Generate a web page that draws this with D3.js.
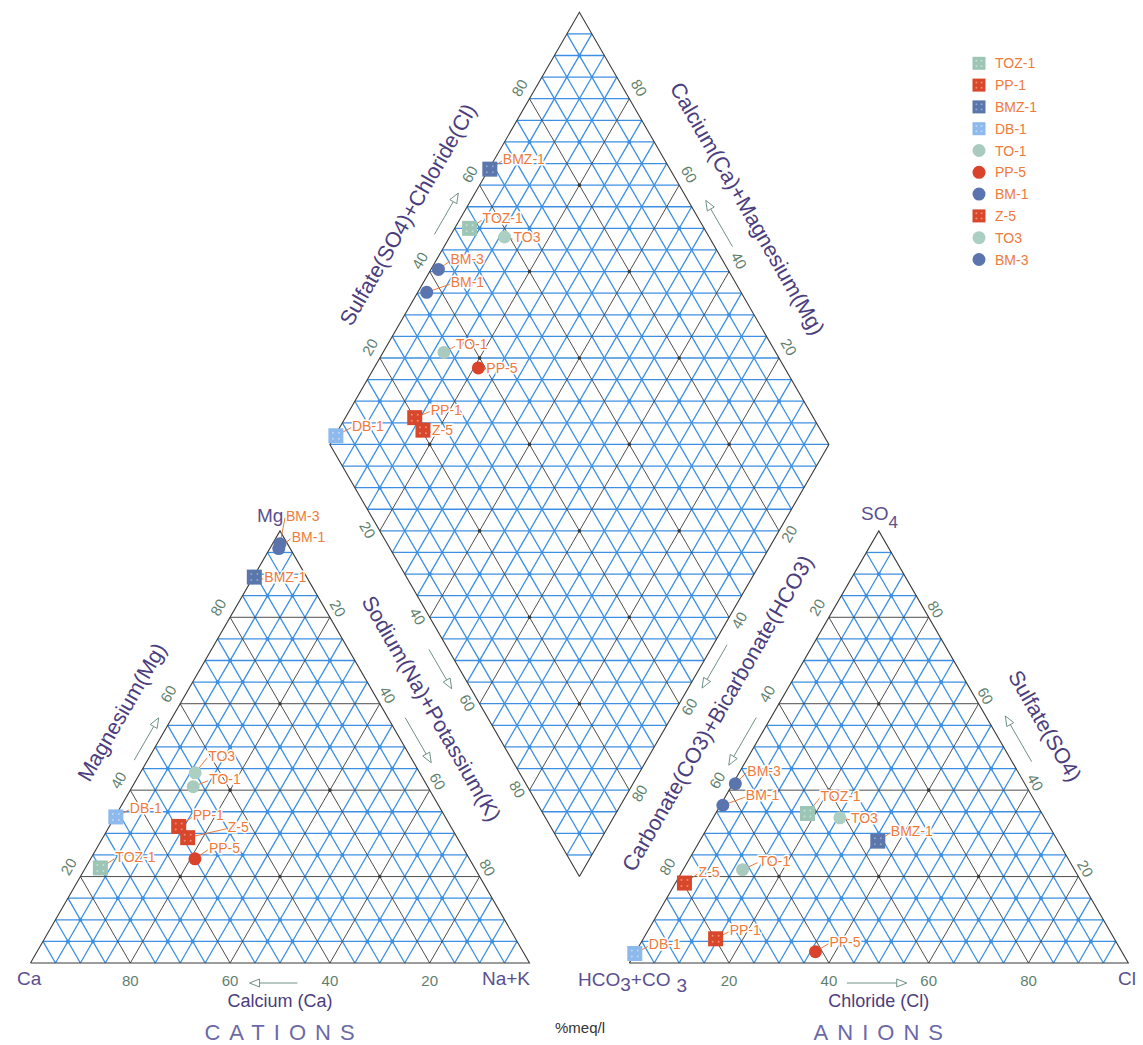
<!DOCTYPE html>
<html>
<head>
<meta charset="utf-8">
<script src="https://cdn.jsdelivr.net/npm/d3@7"></script>
<style>
  body { margin: 0; background: #fff; }
  svg { display: block; font-family: "Liberation Sans", Arial, sans-serif; }
</style>
</head>
<body>
<svg id="chart" width="1143" height="1045"></svg>
<script>
//======= data (%meq/l) =======//
const samples = ['TOZ-1', 'PP-1', 'BMZ-1', 'DB-1', 'TO-1', 'PP-5', 'BM-1', 'Z-5', 'TO3', 'BM-3'];
// cations
const caPct  = [75, 54.5, 10.5, 66, 47, 55, 2.3, 54, 45, 1.5];
const mgPct  = [22, 31.6, 89.3, 33.8, 40.8, 24.1, 95.9, 29, 44, 97];
const naKPct = [3, 13.9, 0.2, 0.2, 12.2, 20.9, 1.8, 17, 11, 1.5];
// anions
const hco3Pct = [47, 79.9, 36.1, 97.8, 66.5, 61.4, 63, 79.7, 41, 58];
const so4Pct  = [34.6, 5.6, 28.2, 2.2, 21.6, 2.6, 36.5, 18.5, 33.6, 41.5];
const clPct   = [18.4, 14.5, 35.7, 0, 11.9, 36, 0.5, 1.8, 25.4, 0.5];

const ticks = [20, 40, 60, 80];

//======= styles =======//
const markerStyle = {
  'TOZ-1': { shape: 'square', fill: '#9dc5b5', dot: '#c6ded4' },
  'PP-1':  { shape: 'square', fill: '#d8472c', dot: '#f08d6d' },
  'BMZ-1': { shape: 'square', fill: '#5a76aa', dot: '#90a6cd' },
  'DB-1':  { shape: 'square', fill: '#8db9ec', dot: '#c0d8f5' },
  'TO-1':  { shape: 'circle', fill: '#a9cbbf' },
  'PP-5':  { shape: 'circle', fill: '#d9432b' },
  'BM-1':  { shape: 'circle', fill: '#5a74b0' },
  'Z-5':   { shape: 'square', fill: '#d8472c', dot: '#f08d6d' },
  'TO3':   { shape: 'circle', fill: '#abd0c3' },
  'BM-3':  { shape: 'circle', fill: '#5a74ae' }
};

// label offsets (px) from marker, per panel
const labelOffset = {
  left: {
    'TOZ-1': [15, -11], 'PP-1': [14, -11], 'BMZ-1': [10, 0], 'DB-1': [14, -9], 'TO-1': [16, -8],
    'PP-5': [14, -11], 'BM-1': [13, -12], 'Z-5': [40, -11], 'TO3': [13, -17], 'BM-3': [6, -28]
  },
  right: {
    'TOZ-1': [13, -17], 'PP-1': [14, -9], 'BMZ-1': [13, -10], 'DB-1': [14, -9], 'TO-1': [16, -9],
    'PP-5': [14, -10], 'BM-1': [23, -10], 'Z-5': [14, -11], 'TO3': [11, 0], 'BM-3': [12, -13]
  },
  diamond: {
    'TOZ-1': [13, -10], 'PP-1': [16, -8], 'BMZ-1': [13, -10], 'DB-1': [16, -10], 'TO-1': [12, -8],
    'PP-5': [8, 0], 'BM-1': [24, -10], 'Z-5': [9, 0], 'TO3': [9, 0], 'BM-3': [12, -10]
  }
};

const blue = '#3c8fe2';
const black = '#3a3a3a';
const titleColor = '#4b3d7e';
const tickColor = '#5f7f70';
const labelColor = '#ee7a3c';
const arrowColor = '#6f9282';

//======= geometry =======//
const H = Math.sqrt(3) / 2;
const side = 499;
const x = d3.scaleLinear().domain([0, 2.2]).range([30.5, 30.5 + 2.2 * side]);
const y = d3.scaleLinear().domain([0, 1]).range([963, 963 - side]);

// a = bottom-left, b = bottom-right, c = apex
const cation = (a, b, c) => [b / 100 + c / 200, c / 100 * H];       // Ca, Na+K, Mg
const anion = (a, b, c) => [1.2 + b / 100 + c / 200, c / 100 * H];  // HCO3+CO3, Cl, SO4
// u = SO4+Cl, v = Ca+Mg
const diamond = (u, v) => [1.1 + (u - v) / 200, 0.2 * H + (u + v) / 100 * H];
const px = p => [x(p[0]), y(p[1])];

const lineGen = d3.line().x(d => x(d[0])).y(d => y(d[1]));

const svg = d3.select('#chart');
const gBlue = svg.append('g');
const gBlack = svg.append('g');
const gText = svg.append('g');
const gMarks = svg.append('g');

function triangleGrid(tern) {
  const g = { blueSegs: [], blackSegs: [], blueDots: [], blackDots: [] };
  for (let k = 5; k < 100; k += 5) {
    const segs = [
      [tern(100 - k, 0, k), tern(0, 100 - k, k)],
      [tern(100 - k, k, 0), tern(0, k, 100 - k)],
      [tern(k, 100 - k, 0), tern(k, 0, 100 - k)]
    ];
    (k % 20 === 0 ? g.blackSegs : g.blueSegs).push(...segs);
  }
  for (let c = 0; c <= 100; c += 5) {
    for (let b = 0; b <= 100 - c; b += 5) {
      const a = 100 - b - c, v = [a, b, c];
      const odd = v.filter(t => t % 10 === 5).length;
      const even = v.find(t => t % 10 === 0);
      if (odd === 2 && even % 20 === 10) g.blueDots.push(tern(a, b, c));
      if (v.every(t => t > 0 && t % 20 === 0)) g.blackDots.push(tern(a, b, c));
    }
  }
  g.outline = [tern(100, 0, 0), tern(0, 100, 0), tern(0, 0, 100), tern(100, 0, 0)];
  return g;
}

function diamondGrid() {
  const g = { blueSegs: [], blackSegs: [], blueDots: [], blackDots: [] };
  for (let k = 5; k < 100; k += 5) {
    const segs = [[diamond(k, 0), diamond(k, 100)], [diamond(0, k), diamond(100, k)]];
    (k % 20 === 0 ? g.blackSegs : g.blueSegs).push(...segs);
  }
  for (let k = 5; k < 200; k += 5) {
    if (k <= 100) g.blueSegs.push([diamond(0, k), diamond(k, 0)]);
    else g.blueSegs.push([diamond(k - 100, 100), diamond(100, k - 100)]);
  }
  for (let u = 5; u < 100; u += 5) {
    for (let v = 5; v < 100; v += 5) {
      if (u % 10 === 5 && v % 10 === 5 && (u + v) % 20 === 10) g.blueDots.push(diamond(u, v));
      if (u % 20 === 0 && v % 20 === 0) g.blackDots.push(diamond(u, v));
    }
  }
  g.outline = [diamond(0, 0), diamond(100, 0), diamond(100, 100), diamond(0, 100), diamond(0, 0)];
  return g;
}

function drawGrid(g) {
  gBlue.selectAll(null).data(g.blueSegs).enter().append('path')
    .attr('d', lineGen).attr('fill', 'none').attr('stroke', blue).attr('stroke-width', 1.3);
  gBlue.selectAll(null).data(g.blueDots).enter().append('circle')
    .attr('cx', d => x(d[0])).attr('cy', d => y(d[1])).attr('r', 2).attr('fill', blue);
  gBlack.selectAll(null).data(g.blackSegs).enter().append('path')
    .attr('d', lineGen).attr('fill', 'none').attr('stroke', black).attr('stroke-width', 0.9);
  gBlack.selectAll(null).data(g.blackDots).enter().append('circle')
    .attr('cx', d => x(d[0])).attr('cy', d => y(d[1])).attr('r', 1.8).attr('fill', black);
  gBlack.append('path').datum(g.outline).attr('d', lineGen)
    .attr('fill', 'none').attr('stroke', black).attr('stroke-width', 1.1);
}

drawGrid(triangleGrid(cation));
drawGrid(triangleGrid(anion));
drawGrid(diamondGrid());

//======= tick labels =======//
function tick(p, dx, dy, rot, t) {
  const [X, Y] = px(p);
  gText.append('text')
    .attr('transform', 'translate(' + (X + dx) + ',' + (Y + dy) + ') rotate(' + rot + ')')
    .attr('text-anchor', 'middle').attr('dominant-baseline', 'central')
    .attr('font-size', 15).attr('fill', tickColor)
    .text(t);
}

ticks.forEach(t => {
  tick(cation(t, 100 - t, 0), 0, 17, 0, t);
  tick(cation(100 - t, 0, t), -12, -10, -60, t);
  tick(cation(0, t, 100 - t), 8, -9, 60, t);

  tick(anion(100 - t, t, 0), 0, 17, 0, t);
  tick(anion(t, 0, 100 - t), -12, -10, -60, t);
  tick(anion(0, 100 - t, t), 7, -8, 60, t);

  tick(diamond(t, 100), -10, -11, -60, t);
  tick(diamond(100, t), 10, -11, 60, t);
  tick(diamond(0, 100 - t), -12, -1, 60, t);
  tick(diamond(100 - t, 0), 10, 3, -60, t);
});

//======= axis titles and arrows =======//
const edges = {
  ltLeft:  [cation(100, 0, 0), cation(0, 0, 100)],
  ltRight: [cation(0, 0, 100), cation(0, 100, 0)],
  ltBottom: [cation(0, 100, 0), cation(100, 0, 0)],
  rtLeft:  [anion(100, 0, 0), anion(0, 0, 100)],
  rtRight: [anion(0, 0, 100), anion(0, 100, 0)],
  rtBottom: [anion(0, 100, 0), anion(100, 0, 0)],
  dUL: [diamond(0, 100), diamond(100, 100)],
  dUR: [diamond(100, 100), diamond(100, 0)],
  dLL: [diamond(0, 0), diamond(0, 100)],
  dLR: [diamond(100, 0), diamond(0, 0)]
};

function edgePoint(edge, t, d) {
  const [x1, y1] = px(edge[0]), [x2, y2] = px(edge[1]);
  const dx = x2 - x1, dy = y2 - y1, len = Math.hypot(dx, dy);
  return [x1 + t * dx + d * dy / len, y1 + t * dy - d * dx / len];
}

function title(edge, t, d, rot, txt) {
  const [X, Y] = edgePoint(edges[edge], t, d);
  gText.append('text')
    .attr('transform', 'translate(' + X + ',' + Y + ') rotate(' + rot + ')')
    .attr('text-anchor', 'middle').attr('dominant-baseline', 'central')
    .attr('font-size', 21.5).attr('fill', titleColor)
    .text(txt);
}

function arrow(edge, t0, t1, d) {
  const [xa, ya] = edgePoint(edges[edge], t0, d);
  const [xb, yb] = edgePoint(edges[edge], t1, d);
  const ang = Math.atan2(yb - ya, xb - xa);
  const hl = 10, hw = 4;
  const bx = xb - hl * Math.cos(ang), by = yb - hl * Math.sin(ang);
  gText.append('line').attr('x1', xa).attr('y1', ya).attr('x2', bx).attr('y2', by)
    .attr('stroke', arrowColor).attr('stroke-width', 1);
  gText.append('path')
    .attr('d', 'M' + xb + ',' + yb +
      'L' + (bx + hw * Math.sin(ang)) + ',' + (by - hw * Math.cos(ang)) +
      'L' + (bx - hw * Math.sin(ang)) + ',' + (by + hw * Math.cos(ang)) + 'Z')
    .attr('fill', '#fff').attr('stroke', arrowColor).attr('stroke-width', 1);
}

title('ltLeft', 0.527, 46, -60, 'Magnesium(Mg)');
title('ltRight', 0.46, 42, 60, 'Sodium(Na)+Potassium(K)');
title('dUL', 0.477, 47, -60, 'Sulfate(SO4)+Chloride(Cl)');
title('dUR', 0.509, 47, 60, 'Calcium(Ca)+Magnesium(Mg)');
title('rtLeft', 0.522, 48, -60, 'Carbonate(CO3)+Bicarbonate(HCO3)');
title('rtRight', 0.505, 46, 60, 'Sulfate(SO4)');

arrow('ltLeft', 0.456, 0.554, 11.6);
arrow('ltRight', 0.45, 0.554, 15);
arrow('dLL', 0.545, 0.454, 16.7);
arrow('dUL', 0.469, 0.565, 14.5);
arrow('dUR', 0.56, 0.453, 15.4);
arrow('dLR', 0.45, 0.55, 12);
arrow('rtLeft', 0.553, 0.443, 12.8);
arrow('rtRight', 0.554, 0.448, 17);
arrow('ltBottom', 0.465, 0.561, 20);
arrow('rtBottom', 0.564, 0.444, 20);

function plainText(X, Y, txt, size, color, anchor) {
  return gText.append('text').attr('x', X).attr('y', Y)
    .attr('text-anchor', anchor || 'start').attr('font-size', size).attr('fill', color)
    .text(txt);
}

const [ltBx] = px(cation(50, 50, 0));
const [rtBx] = px(anion(50, 50, 0));
plainText(ltBx, 1007, 'Calcium (Ca)', 18, titleColor, 'middle');
plainText(rtBx, 1007, 'Chloride (Cl)', 18, titleColor, 'middle');
plainText(ltBx + 4, 1040, 'CATIONS', 22, '#6b69a8', 'middle').attr('letter-spacing', 9);
plainText(rtBx + 4, 1040, 'ANIONS', 22, '#6b69a8', 'middle').attr('letter-spacing', 9);
plainText(580, 1033, '%meq/l', 15, '#333', 'middle');

plainText(17, 985, 'Ca', 19, '#5a5090');
plainText(530, 985, 'Na+K', 19, '#5a5090', 'end');
plainText(1118, 985, 'Cl', 19, '#5a5090');
plainText(257, 522, 'Mg', 19, '#5a5090');

const so4 = plainText(861, 520, 'SO', 19, '#5a5090');
so4.append('tspan').attr('dy', 8).attr('font-size', 17).text('4');

const hco = plainText(578, 986, 'HCO', 19, '#5a5090');
hco.append('tspan').attr('dy', 5).text('3');
hco.append('tspan').attr('dy', -5).text('+CO');
hco.append('tspan').attr('dy', 6).attr('dx', 6).text('3');

//======= markers =======//
function marker(g, name, X, Y, size) {
  const st = markerStyle[name];
  if (st.shape === 'square') {
    g.append('rect').attr('x', X - size / 2).attr('y', Y - size / 2)
      .attr('width', size).attr('height', size).attr('fill', st.fill);
    [[-1, -1], [1, -1], [-1, 1], [1, 1]].forEach(([i, j]) => {
      g.append('circle').attr('cx', X + i * size * 0.2).attr('cy', Y + j * size * 0.2)
        .attr('r', 1).attr('fill', st.dot);
    });
  } else {
    g.append('circle').attr('cx', X).attr('cy', Y).attr('r', size / 2).attr('fill', st.fill);
  }
}

const panels = [
  { key: 'left', pos: i => cation(caPct[i], naKPct[i], mgPct[i]) },
  { key: 'right', pos: i => anion(hco3Pct[i], clPct[i], so4Pct[i]) },
  { key: 'diamond', pos: i => diamond(so4Pct[i] + clPct[i], caPct[i] + mgPct[i]) }
];

panels.forEach(panel => {
  samples.forEach((name, i) => {
    const [X, Y] = px(panel.pos(i));
    const [ox, oy] = labelOffset[panel.key][name];
    const lx = X + ox, ly = Y + oy;
    gMarks.append('line').attr('x1', X).attr('y1', Y).attr('x2', lx - 1).attr('y2', ly + 2)
      .attr('stroke', labelColor).attr('stroke-width', 1);
    marker(gMarks, name, X, Y, markerStyle[name].shape === 'square' ? 15 : 13);
    gMarks.append('text').attr('x', lx).attr('y', ly).attr('dominant-baseline', 'central')
      .attr('font-size', 14).attr('fill', labelColor)
      .attr('stroke', '#fff').attr('stroke-width', 3).attr('paint-order', 'stroke')
      .text(name);
  });
});

//======= legend =======//
const gLegend = svg.append('g');
const legendX = 979, legendY = 63.3, legendStep = 21.8;
samples.forEach((name, i) => {
  const Y = legendY + i * legendStep;
  marker(gLegend, name, legendX, Y, 13);
  gLegend.append('text').attr('x', legendX + 16).attr('y', Y).attr('dominant-baseline', 'central')
    .attr('font-size', 14).attr('fill', labelColor).text(name);
});
</script>
</body>
</html>
